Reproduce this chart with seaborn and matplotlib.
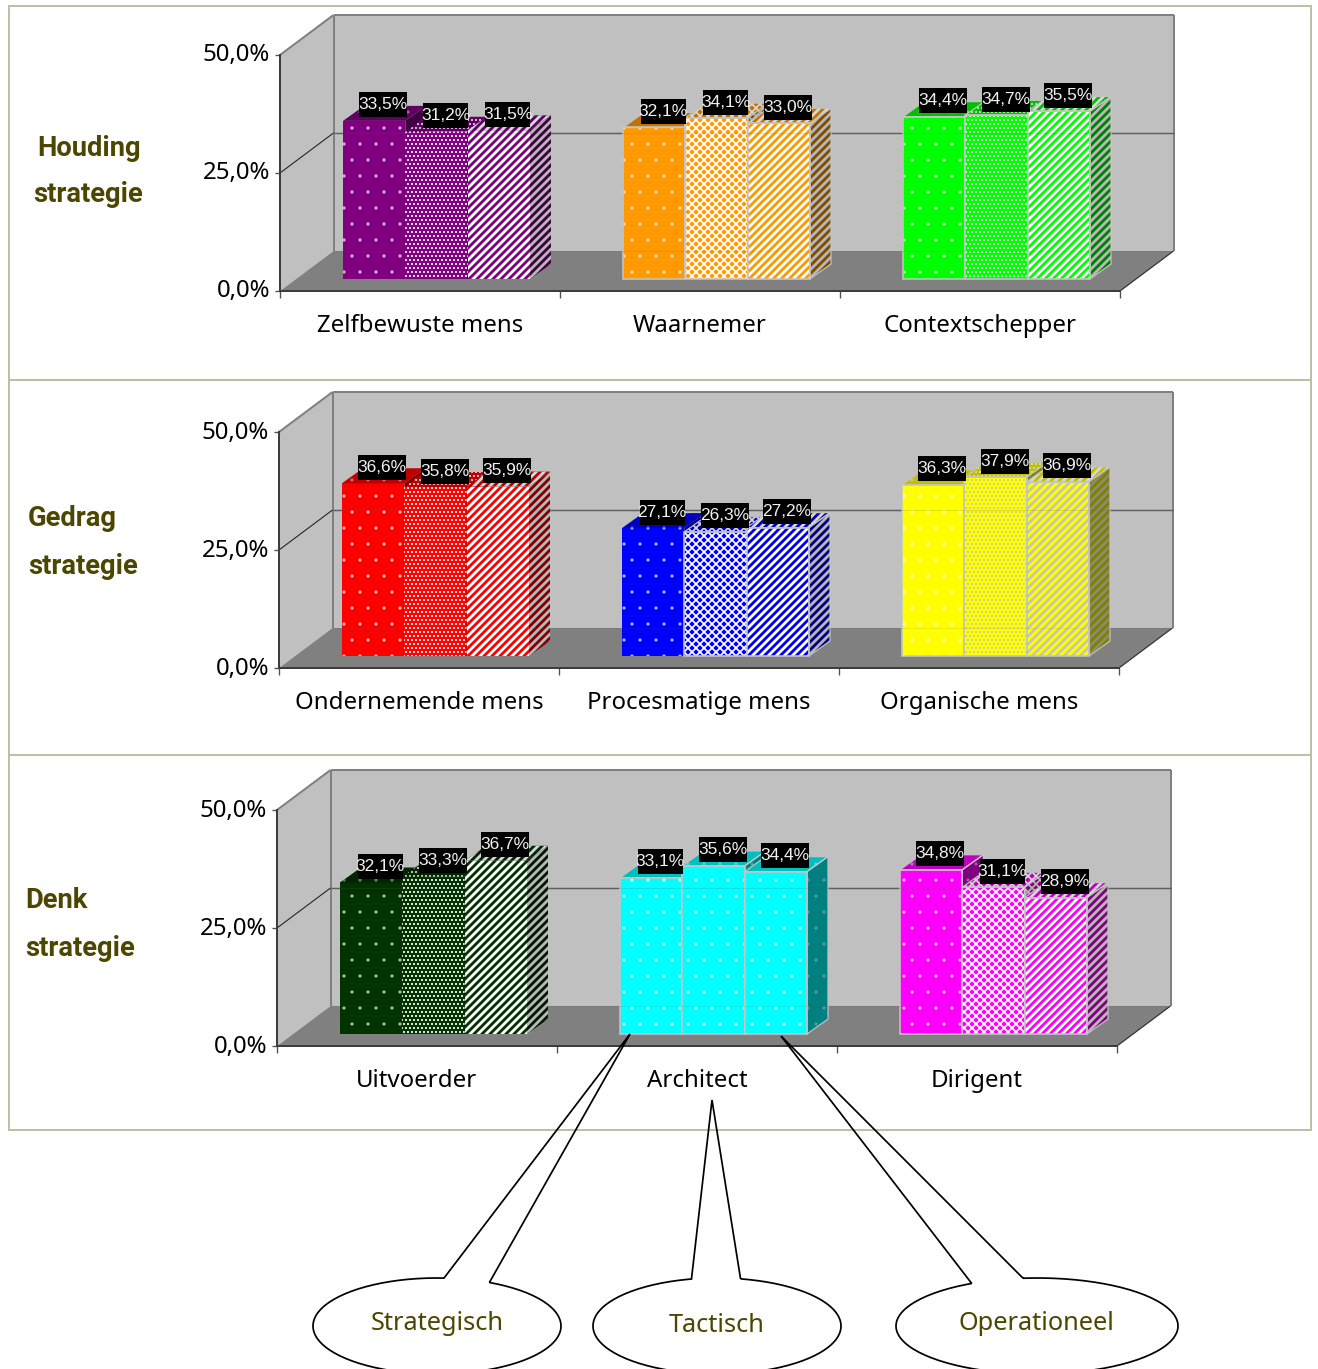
import numpy as np
import pandas as pd
import matplotlib
matplotlib.use("Agg")
import matplotlib.pyplot as plt
import seaborn as sns
from matplotlib.colors import to_rgb
from matplotlib.lines import Line2D
from matplotlib.patches import PathPatch, Polygon, Rectangle
from matplotlib.path import Path
from matplotlib.transforms import Affine2D, IdentityTransform

# Scores per role, three levels per role
levels = ["Strategisch", "Tactisch", "Operationeel"]
attitude_roles = ["Zelfbewuste mens", "Waarnemer", "Contextschepper"]
attitude_scores = [[33.5, 31.2, 31.5], [32.1, 34.1, 33.0], [34.4, 34.7, 35.5]]
behaviour_roles = ["Ondernemende mens", "Procesmatige mens", "Organische mens"]
behaviour_scores = [[36.6, 35.8, 35.9], [27.1, 26.3, 27.2], [36.3, 37.9, 36.9]]
thinking_roles = ["Uitvoerder", "Architect", "Dirigent"]
thinking_scores = [[32.1, 33.3, 36.7], [33.1, 35.6, 34.4], [34.8, 31.1, 28.9]]
y_ticks = [0, 25, 50]
y_tick_labels = ["0,0%", "25,0%", "50,0%"]

W, H, DPI = 1318, 1369, 96
BODY_FONT = ["Noto Sans", "DejaVu Sans"]
OLIVE = "#4D4600"
WALL, FLOOR = "#C0C0C0", "#808080"
EDGE = "#808080"
OUTLINE = "#C4C4C4"
FRAME = "#BFBFA6"
WHITE, KHAKI = "#FFFFFF", "#C8C8A8"

# Per role: base colour, texture per level, hatch colour per level, outlined levels
DOTS, FINE, LATTICE, STRIPES = ".", "....", "xxxx", "////"
HATCH_WIDTH = {DOTS: 0.0, FINE: 1.0, LATTICE: 1.3, STRIPES: 2.1}
attitude_style = [
    ("#800080", (DOTS, FINE, STRIPES), (WHITE, WHITE, WHITE), ()),
    ("#FF9900", (DOTS, LATTICE, STRIPES), (WHITE, WHITE, WHITE), (0, 1, 2)),
    ("#00FF00", (DOTS, FINE, STRIPES), (WHITE, WHITE, WHITE), (0, 1, 2)),
]
behaviour_style = [
    ("#FF0000", (DOTS, FINE, STRIPES), (WHITE, WHITE, WHITE), ()),
    ("#0000FF", (DOTS, LATTICE, STRIPES), (WHITE, WHITE, WHITE), (1, 2)),
    ("#FFFF00", (DOTS, FINE, STRIPES), (WHITE, KHAKI, KHAKI), (0, 1, 2)),
]
thinking_style = [
    ("#003300", (DOTS, FINE, STRIPES), (WHITE, WHITE, WHITE), ()),
    ("#00FFFF", (DOTS, DOTS, DOTS), (WHITE, WHITE, WHITE), (0, 1, 2)),
    ("#FF00FF", (DOTS, LATTICE, STRIPES), (WHITE, WHITE, WHITE), (0, 1, 2)),
]

# Pseudo-3D layout, in pixels
WALL_DEPTH = np.array([53.5, 40.0])
BAR_PLANE = np.array([16.5, 12.0])
BAR_DEPTH = np.array([21.0, 15.0])
PLOT_W, PLOT_H = 840, 236

panels = [
    (280, 291, attitude_roles, attitude_scores, attitude_style),
    (279, 668, behaviour_roles, behaviour_scores, behaviour_style),
    (277, 1046, thinking_roles, thinking_scores, thinking_style),
]

sns.set_theme(style="white", rc={"axes.grid": False})
plt.rcParams["font.family"] = BODY_FONT
plt.rcParams["text.color"] = "black"

fig = plt.figure(figsize=(W / DPI, H / DPI), dpi=DPI, facecolor="white")
page = Affine2D().scale(1, -1).translate(0, H)


def shade(colour, factor):
    return tuple(c * factor for c in to_rgb(colour))


def blend(colour, other, share):
    a, b = np.array(to_rgb(colour)), np.array(to_rgb(other))
    return tuple(a * (1 - share) + b * share)


def face(points, fill, hatch, hatch_colour, z):
    patch = Polygon(points, closed=True, transform=IdentityTransform(), facecolor=fill,
                    edgecolor=hatch_colour, linewidth=0, hatch=hatch, zorder=z, clip_on=False)
    patch.set_hatch_linewidth(HATCH_WIDTH[hatch])
    return patch


def draw_panel(left, base, roles, scores, style):
    ax = fig.add_axes([left / W, (H - base) / H, PLOT_W / W, PLOT_H / H])
    ax.patch.set_visible(False)
    table = pd.DataFrame({
        "role": np.repeat(roles, 3),
        "level": levels * 3,
        "score": np.ravel(scores),
    })
    sns.barplot(data=table, x="role", y="score", hue="level", order=roles, hue_order=levels,
                width=187 / 280, gap=0, dodge=True, legend=False, ax=ax)
    ax.set_xlim(-0.5, 2.5)
    ax.set_ylim(0, 50)
    ax.set_xlabel("")
    ax.set_ylabel("")

    def to_px(x, y, offset=(0.0, 0.0)):
        return ax.transData.transform((x, y)) + np.asarray(offset)

    # Walls and floor behind the bars
    corners = [to_px(-0.5, 0), to_px(-0.5, 50), to_px(2.5, 50), to_px(2.5, 0)]
    back = [c + WALL_DEPTH for c in corners]

    def static(points, z=1, **kw):
        ax.add_patch(Polygon(points, closed=True, transform=IdentityTransform(), zorder=z,
                             clip_on=False, **kw))

    def stroke(a, b, colour, width, z=1.5, alpha=None):
        ax.add_line(Line2D([a[0], b[0]], [a[1], b[1]], color=colour, lw=width, alpha=alpha,
                           transform=IdentityTransform(), zorder=z, clip_on=False,
                           solid_capstyle="butt"))

    static([corners[0], corners[1], back[1], back[0]], facecolor=WALL, edgecolor="none")
    static([back[0], back[1], back[2], back[3]], facecolor=WALL, edgecolor="none")
    static([corners[0], corners[3], back[3], back[0]], facecolor=FLOOR, edgecolor="none")
    stroke(corners[1], back[1], EDGE, 1.5)
    stroke(back[0], back[1], EDGE, 1.5)
    stroke(back[1], back[2], EDGE, 1.5)
    stroke(back[2], back[3], EDGE, 1.5)
    stroke(corners[3], back[3], "#303030", 0.9)
    mid_front, mid_back = to_px(-0.5, 25), to_px(-0.5, 25, WALL_DEPTH)
    stroke(mid_front, mid_back, "#202020", 0.8)
    stroke(mid_back, to_px(2.5, 25, WALL_DEPTH), "#606060", 1.1)

    # Bars: seaborn gives the front faces, the top and side faces follow their geometry
    shift = Affine2D().translate(*BAR_PLANE)
    for j, container in enumerate(ax.containers):
        for i, bar in enumerate(container):
            colour, textures, hatch_colours, outlined = style[i]
            texture = textures[j]
            hatch_colour = hatch_colours[j]
            if texture == DOTS:
                hatch_colour = blend(colour, hatch_colour, 0.7)
            x0, x1 = bar.get_x(), bar.get_x() + bar.get_width()
            v = bar.get_height()
            z = 3 + j
            bar.set_transform(ax.transData + shift)
            bar.set_clip_on(False)
            bar.set_facecolor(colour)
            bar.set_edgecolor(hatch_colour)
            bar.set_linewidth(0)
            bar.set_hatch(texture)
            bar.set_hatch_linewidth(HATCH_WIDTH[texture])
            bar.set_zorder(z)

            p = lambda x, y, d=0.0: to_px(x, y, BAR_PLANE + d * BAR_DEPTH)
            top = [p(x0, v), p(x1, v), p(x1, v, 1), p(x0, v, 1)]
            side = [p(x1, 0), p(x1, v), p(x1, v, 1), p(x1, 0, 1)]
            side_hatch = "#B8B8B8" if colour != "#FFFF00" else "#8C8C70"
            top_fill, side_fill = shade(colour, 0.75), shade(colour, 0.5)
            top_hatch = "#D8D8D8"
            if texture == DOTS:
                top_hatch = blend(top_fill, top_hatch, 0.5)
                side_hatch = blend(side_fill, side_hatch, 0.5)
            ax.add_patch(face(top, top_fill, texture, top_hatch, z + 0.1))
            ax.add_patch(face(side, side_fill, texture, side_hatch, z + 0.1))
            if j in outlined:
                for pts in (top, side):
                    ax.add_patch(Polygon(pts, closed=True, transform=IdentityTransform(),
                                         facecolor="none", edgecolor=OUTLINE, linewidth=0.9,
                                         zorder=z + 0.2, clip_on=False))
                ax.add_patch(Polygon([p(x0, 0), p(x0, v), p(x1, v), p(x1, 0)], closed=True,
                                     transform=IdentityTransform(), facecolor="none",
                                     edgecolor=OUTLINE, linewidth=1.2, zorder=z + 0.3,
                                     clip_on=False))

            # Value label on a black plate
            cx, cy = to_px((x0 + x1) / 2, v, BAR_PLANE)
            label = f"{v:.1f}".replace(".", ",") + "%"
            plate_w = 45 if ",1" in label or "1," in label else 48
            ax.add_patch(Rectangle((cx + 9 - plate_w / 2, cy + 16 - 12.5), plate_w, 25,
                                   transform=IdentityTransform(), facecolor="black",
                                   edgecolor="none", zorder=8, clip_on=False))
            ax.text(cx + 9, cy + 16, label, transform=IdentityTransform(), color="#F2F2F2",
                    family="Liberation Sans", fontsize=13, ha="center", va="center",
                    zorder=9, clip_on=False)

    # Faint trace of the wall lines through the bars
    stroke(mid_back, to_px(2.5, 25, WALL_DEPTH), "#606060", 0.8, z=7, alpha=0.18)
    stroke(back[0], back[3], "#606060", 0.8, z=7, alpha=0.12)

    sns.despine(ax=ax, top=True, right=True)
    for name in ("left", "bottom"):
        ax.spines[name].set_color("#3C3C3C")
        ax.spines[name].set_linewidth(1.5)
        ax.spines[name].set_zorder(2)
    ax.set_yticks(y_ticks, y_tick_labels)
    ax.set_xticks([0, 1, 2], roles)
    ax.set_xticks([-0.5, 0.5, 1.5, 2.5], minor=True)
    ax.tick_params(axis="x", which="major", length=0, pad=17.5, labelsize=18, labelcolor="black")
    ax.tick_params(axis="x", which="minor", length=5, width=1, color="#505050", bottom=True)
    ax.tick_params(axis="y", which="major", length=4, width=1, color="#505050", left=True,
                   pad=3.5, labelsize=18, labelcolor="black")
    for tick_label in ax.get_yticklabels():
        tick_label.set_transform(tick_label.get_transform() + Affine2D().translate(0, 2.5))


for spec in panels:
    draw_panel(*spec)

# Frame around the three panels
fig.add_artist(Rectangle((9, 6), 1302, 1124, transform=page, facecolor="none", edgecolor=FRAME,
                         linewidth=1.5, zorder=-1))
for y in (380, 755):
    fig.add_artist(Line2D([9, 1311], [y, y], transform=page, color=FRAME, lw=1.5, zorder=-1))

# Row titles
row_titles = [
    ("Houding", 89, 148, "center"), ("strategie", 88, 195, "center"),
    ("Gedrag", 28, 519, "left"), ("strategie", 28, 567, "left"),
    ("Denk", 25, 901, "left"), ("strategie", 25, 948, "left"),
]
for text, x, y, align in row_titles:
    fig.text(x, y, text, transform=page, color=OLIVE, family="Roboto", fontsize=20.5,
             fontweight="bold", ha=align, va="center")


def callout(cx, rx, left_base, right_base, tip, text, text_xy):
    cy, ry = 1326, 48

    def angle(pt):
        return np.arctan2((cy - pt[1]) / ry, (pt[0] - cx) / rx)

    start, end = angle(right_base), angle(left_base)
    theta = np.linspace(start, end - 2 * np.pi, 160)
    arc = np.column_stack([cx + rx * np.cos(theta), cy - ry * np.sin(theta)])
    vertices = np.vstack([arc, [tip], [arc[0]]])
    fig.add_artist(PathPatch(Path(vertices), transform=page, facecolor="none", edgecolor="black",
                             linewidth=1.3, zorder=5))
    fig.text(*text_xy, text, transform=page, color=OLIVE, fontsize=19, ha="center", va="center",
             zorder=6)


callout(437, 124, (444, 1278), (490, 1282), (630, 1034), levels[0], (437, 1324))
callout(717, 124, (692, 1280), (740, 1280), (712, 1100), levels[1], (717, 1325))
callout(1037, 141, (971, 1283), (1023, 1278), (781, 1036), levels[2], (1036, 1324))

fig.savefig("out.png", dpi=DPI, facecolor="white")
